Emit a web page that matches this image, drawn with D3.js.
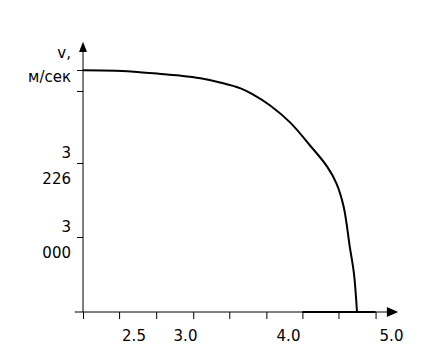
<!DOCTYPE html>
<html>
<head>
<meta charset="utf-8">
<script src="https://cdn.jsdelivr.net/npm/d3@7"></script>
<style>
	body { margin: 0; background: #fff; }
	text { font-family: "DejaVu Sans", sans-serif; font-size: 15px; fill: #000; }
</style>
</head>
<body>
<div id="chart"></div>
<script>
// speed curve
const speedX = [2.01, 2.39, 2.56, 2.73, 2.95, 3.15, 3.34, 3.54, 3.65, 3.83, 4.02, 4.21, 4.38, 4.47, 4.54, 4.60, 4.64, 4.67];
const speedV = [3509, 3507, 3503, 3499, 3493, 3485, 3472, 3454, 3437, 3401, 3350, 3281, 3215, 3164, 3093, 2970, 2889, 2771];
// flat part on the axis
const floorX = [4.14, 4.85];
const floorV = [2771, 2771];

const xTicks = [2.01, 2.36, 2.72, 3.08, 3.43, 3.79, 4.14, 4.49, 4.85];
const xLabels = [2.5, 3.0, 4.0, 5.0];
const yTicks = [3000, 3226, 3446, 3510];
const yLabels = [3000, 3226];
const yTitle = ["v,", "м/сек"];

const width = 437, height = 361;

let scale = {
	x: d3.scaleLinear().domain([2.0, 5.0]).range([82, 391]),
	y: d3.scaleLinear().domain([2771, 3510]).range([312, 70])
};

let svg = d3.select("#chart").append("svg")
	.attr("width", width)
	.attr("height", height);

let x0 = scale.x(speedX[0]);
let y0 = scale.y(speedV[speedV.length - 1]);

// x axis
svg.append("line")
	.attr("x1", scale.x(1.93)).attr("x2", scale.x(4.99))
	.attr("y1", y0).attr("y2", y0)
	.attr("stroke", "#000");
svg.append("path")
	.attr("d", `M${scale.x(5.07)},${y0} L${scale.x(4.96)},${y0 - 5} L${scale.x(4.96)},${y0 + 5} Z`)
	.attr("fill", "#000");

svg.append("g")
	.attr("class", "axis x")
	.attr("transform", `translate(0, ${y0})`)
	.call(d3.axisBottom(scale.x).tickValues(xTicks).tickSize(7).tickFormat(""))
	.call(g => g.select(".domain").remove())
	.selectAll("line").attr("stroke", "#000");

svg.append("g")
	.attr("class", "axis x-labels")
	.attr("transform", `translate(0, ${y0})`)
	.call(d3.axisBottom(scale.x).tickValues(xLabels).tickSize(0).tickPadding(18).tickFormat(d3.format(".1f")))
	.call(g => g.select(".domain").remove())
	.call(g => g.selectAll("text").style("font-size", "15px").style("font-family", "DejaVu Sans"));

// y axis
svg.append("line")
	.attr("x1", x0).attr("x2", x0)
	.attr("y1", y0).attr("y2", scale.y(3565))
	.attr("stroke", "#000");
svg.append("path")
	.attr("d", `M${x0},${scale.y(3596)} L${x0 - 4},${scale.y(3565)} L${x0 + 4},${scale.y(3565)} Z`)
	.attr("fill", "#000");

svg.append("g")
	.attr("class", "axis y")
	.attr("transform", `translate(${x0}, 0)`)
	.call(d3.axisLeft(scale.y).tickValues(yTicks).tickSize(6).tickFormat(""))
	.call(g => g.select(".domain").remove())
	.selectAll("line").attr("stroke", "#000");

let ru = d3.formatLocale({decimal: ",", thousands: " ", grouping: [3], currency: ["", " руб."]});
let yl = svg.selectAll(".ylabel")
	.data(yLabels)
	.enter().append("text")
	.attr("class", "ylabel")
	.attr("text-anchor", "end")
	.attr("transform", d => `translate(71, ${scale.y(d)})`);
yl.selectAll("tspan")
	.data(d => ru.format(",")(d).split(" "))
	.enter().append("tspan")
	.attr("x", 0)
	.attr("y", (d, i) => i === 0 ? -5 : 21)
	.text(d => d);

svg.append("text")
	.attr("text-anchor", "end")
	.attr("transform", `translate(71, 0)`)
	.selectAll("tspan")
	.data(yTitle)
	.enter().append("tspan")
	.attr("x", 0)
	.attr("y", (d, i) => 58 + i * 24)
	.text(d => d);

// curves
let line = d3.line()
	.x(d => scale.x(d[0]))
	.y(d => scale.y(d[1]))
	.curve(d3.curveCatmullRom.alpha(0.5));

svg.append("path")
	.attr("class", "line")
	.attr("d", line(d3.zip(speedX, speedV)))
	.attr("fill", "none")
	.attr("stroke", "#000")
	.attr("stroke-width", 2);

svg.append("path")
	.attr("class", "line floor")
	.attr("d", line(d3.zip(floorX, floorV)))
	.attr("fill", "none")
	.attr("stroke", "#000")
	.attr("stroke-width", 2);
</script>
</body>
</html>
